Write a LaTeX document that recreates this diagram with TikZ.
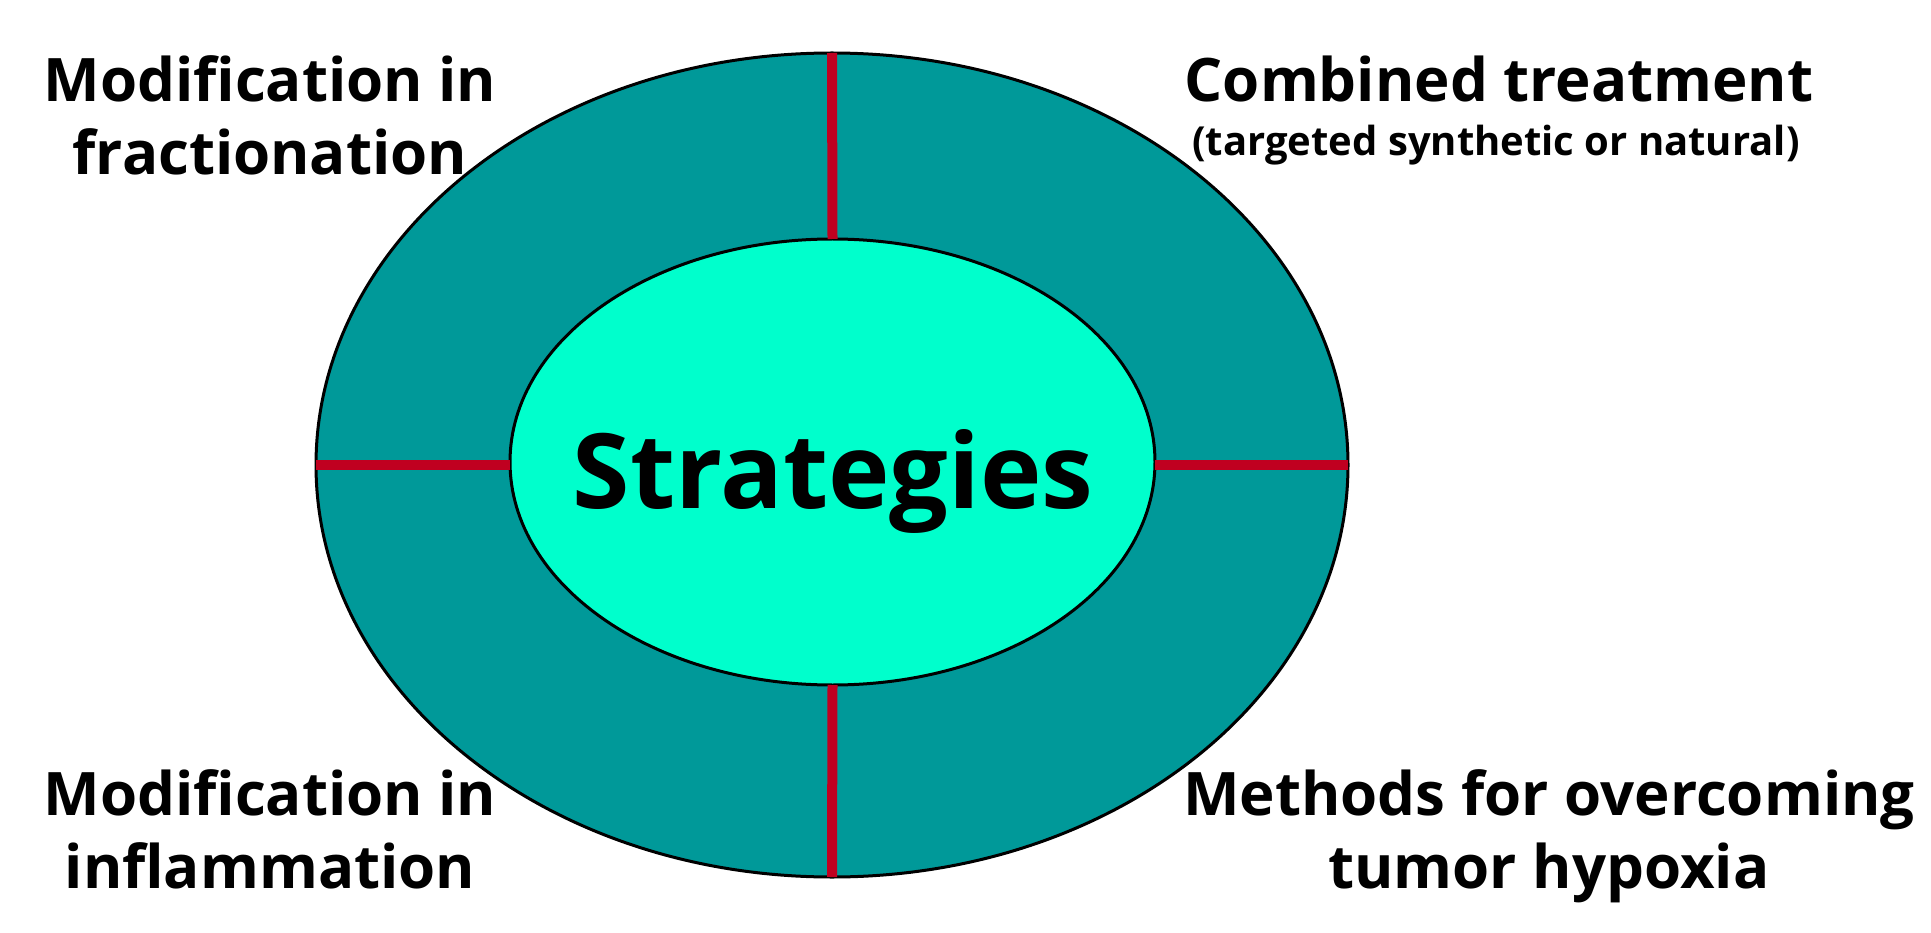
\documentclass[tikz,border=0pt]{standalone}
\usepackage{fontspec}
\setmainfont{Open Sans}
\usepackage{tikz}
\usetikzlibrary{shapes.geometric}
\usepackage{xcolor}

\definecolor{ringteal}{RGB}{0,153,153}
\definecolor{coreaqua}{RGB}{0,255,204}
\definecolor{splitred}{RGB}{192,0,32}

\tikzset{
  ring/.style={ellipse,draw=black,line width=3pt,inner sep=0pt,outer sep=0pt},
  splitline/.style={draw=splitred,line width=10pt},
  txt/.style={inner sep=0pt,align=center,font=\fontsize{60}{73}\selectfont\bfseries}
}

\begin{document}
\begin{tikzpicture}[x=1pt,y=-1pt]
    \useasboundingbox (0,0) rectangle (1931,933);

    \node[ring,fill=ringteal,minimum width=1032pt,minimum height=824pt] (outer) at (832,465) {};
    \node[ring,fill=coreaqua,minimum width=645pt,minimum height=446pt] (inner) at (832.5,462) {};

    \draw[splitline] (outer.north) -- (inner.north);
    \draw[splitline] (inner.south) -- (outer.south);
    \draw[splitline] (outer.west) -- (outer.west -| inner.west);
    \draw[splitline] (outer.east -| inner.east) -- (outer.east);

    \node[inner sep=0pt,anchor=base,font=\fontsize{104}{120}\selectfont\bfseries] (core) at (833,508) {Strategies};

    \node[txt,anchor=north] (fraction) at (270,55) {Modification in\\fractionation};
    \node[txt,anchor=north] (inflam) at (270,769) {Modification in\\inflammation};
    \node[txt,anchor=north] (hypoxia) at (1549,769) {Methods for overcoming\\tumor hypoxia};
    \node[txt,anchor=base] (combined) at (1499,102) {Combined treatment};
    \node[inner sep=0pt,anchor=base,font=\fontsize{40}{46}\selectfont\bfseries] (combnote) at (1496,156) {(targeted synthetic or natural)};

    \end{tikzpicture}
\end{document}
